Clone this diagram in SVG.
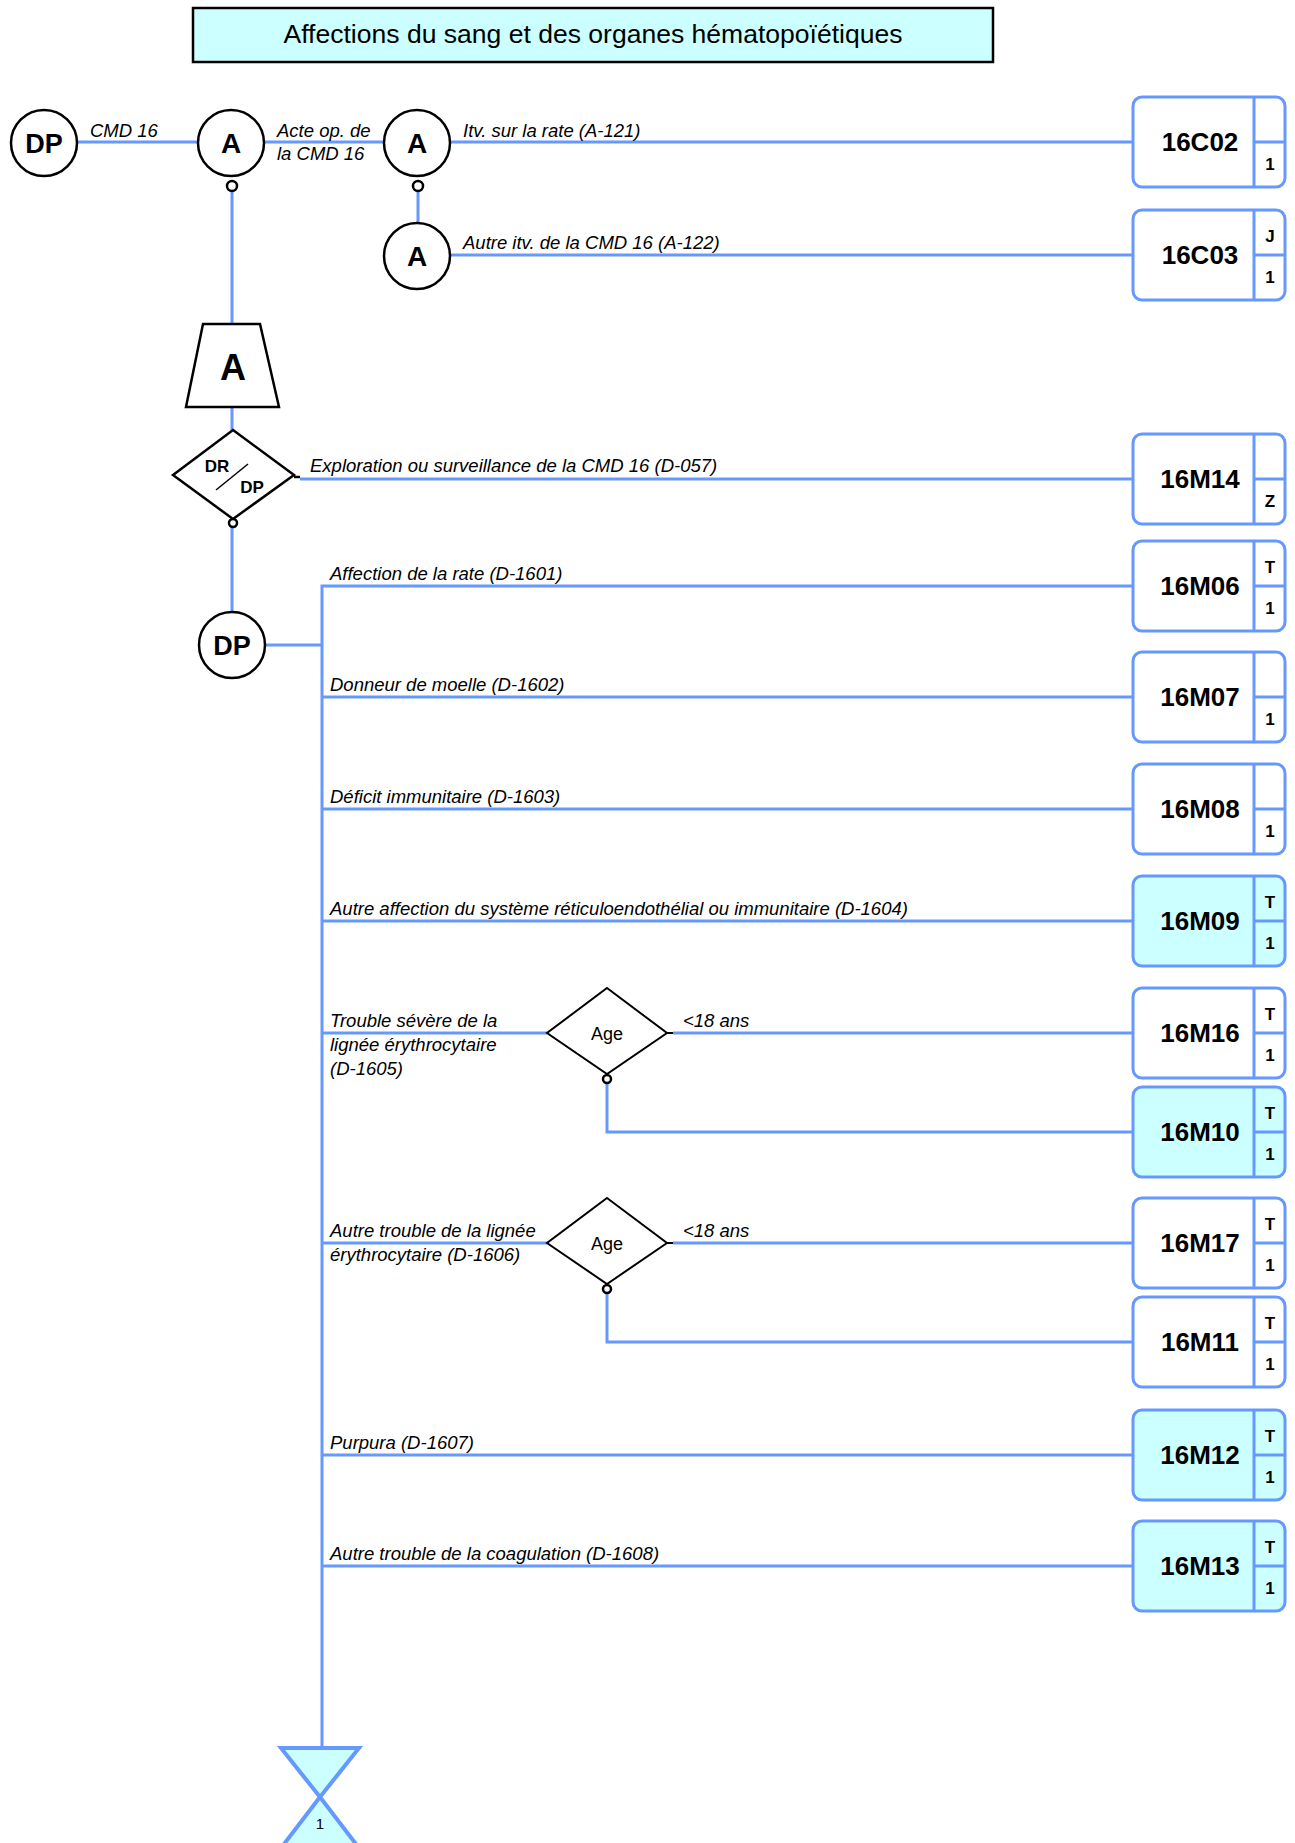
<svg xmlns="http://www.w3.org/2000/svg" width="1295" height="1843" viewBox="0 0 1295 1843">
<defs>
<style>
.bl{stroke:#6699FF;stroke-width:3;fill:none}
.nd{fill:#fff;stroke:#000;stroke-width:2.5}
.sm{fill:#fff;stroke:#000;stroke-width:2.5}
.lb{font-family:"Liberation Sans",Arial,sans-serif;font-size:18.5px;font-style:italic;fill:#000}
.ct{font-family:"Liberation Sans",Arial,sans-serif;font-weight:bold;fill:#000;text-anchor:middle}
.bx{stroke:#6699FF;stroke-width:3;fill:#fff}
.bxf{stroke:#6699FF;stroke-width:3;fill:#CCFFFF}
.code{font-family:"Liberation Sans",Arial,sans-serif;font-weight:bold;font-size:26px;fill:#000;text-anchor:middle}
.flag{font-family:"Liberation Sans",Arial,sans-serif;font-weight:bold;font-size:17px;fill:#000;text-anchor:middle}
.age{font-family:"Liberation Sans",Arial,sans-serif;font-size:18px;fill:#000;text-anchor:middle}
</style>
</defs>
<rect width="1295" height="1843" fill="#fff"/>

<g id="title">
<rect x="193" y="8" width="800" height="54" fill="#CCFFFF" stroke="#000" stroke-width="2.5"/>
<text x="593" y="43" font-family="'Liberation Sans',Arial,sans-serif" font-size="25" text-anchor="middle" textLength="619" lengthAdjust="spacingAndGlyphs">Affections du sang et des organes hématopoïétiques</text>
</g>

<g id="connectors">
<line class="bl" x1="77" y1="142" x2="198" y2="142"/>
<line class="bl" x1="264" y1="142" x2="385" y2="142"/>
<line class="bl" x1="450" y1="142" x2="1133" y2="142"/>
<line class="bl" x1="418" y1="192" x2="418" y2="223"/>
<line class="bl" x1="450" y1="255" x2="1133" y2="255"/>
<line class="bl" x1="232" y1="192" x2="232" y2="324"/>
<line class="bl" x1="232" y1="407" x2="232" y2="431"/>
<line x1="294" y1="477" x2="300" y2="477" stroke="#000" stroke-width="2.5"/>
<line class="bl" x1="300" y1="479" x2="1133" y2="479"/>
<line class="bl" x1="232" y1="528" x2="232" y2="612"/>
<line class="bl" x1="265" y1="645" x2="322" y2="645"/>
<polyline class="bl" points="1133,586 322,586 322,1748"/>
<line class="bl" x1="322" y1="697" x2="1133" y2="697"/>
<line class="bl" x1="322" y1="809" x2="1133" y2="809"/>
<line class="bl" x1="322" y1="921" x2="1133" y2="921"/>
<line class="bl" x1="322" y1="1033" x2="547" y2="1033"/>
<line x1="667" y1="1033" x2="673" y2="1033" stroke="#000" stroke-width="2"/>
<line class="bl" x1="673" y1="1033" x2="1133" y2="1033"/>
<polyline class="bl" points="607,1083 607,1132 1133,1132"/>
<line class="bl" x1="322" y1="1243" x2="547" y2="1243"/>
<line x1="667" y1="1243" x2="673" y2="1243" stroke="#000" stroke-width="2"/>
<line class="bl" x1="673" y1="1243" x2="1133" y2="1243"/>
<polyline class="bl" points="607,1293 607,1342 1133,1342"/>
<line class="bl" x1="322" y1="1455" x2="1133" y2="1455"/>
<line class="bl" x1="322" y1="1566" x2="1133" y2="1566"/>
</g>

<g id="labels">
<text class="lb" x="90" y="137">CMD 16</text>
<text class="lb" x="277" y="137">Acte op. de</text>
<text class="lb" x="277" y="160">la CMD 16</text>
<text class="lb" x="463" y="137">Itv. sur la rate (A-121)</text>
<text class="lb" x="463" y="249">Autre itv. de la CMD 16 (A-122)</text>
<text class="lb" x="310" y="472">Exploration ou surveillance de la CMD 16 (D-057)</text>
<text class="lb" x="330" y="580">Affection de la rate (D-1601)</text>
<text class="lb" x="330" y="691">Donneur de moelle (D-1602)</text>
<text class="lb" x="330" y="803">Déficit immunitaire (D-1603)</text>
<text class="lb" x="330" y="915">Autre affection du système réticuloendothélial ou immunitaire (D-1604)</text>
<text class="lb" x="330" y="1027">Trouble sévère de la</text>
<text class="lb" x="330" y="1051">lignée érythrocytaire</text>
<text class="lb" x="330" y="1075">(D-1605)</text>
<text class="lb" x="683" y="1027">&lt;18 ans</text>
<text class="lb" x="330" y="1237">Autre trouble de la lignée</text>
<text class="lb" x="330" y="1261">érythrocytaire (D-1606)</text>
<text class="lb" x="683" y="1237">&lt;18 ans</text>
<text class="lb" x="330" y="1449">Purpura (D-1607)</text>
<text class="lb" x="330" y="1560">Autre trouble de la coagulation (D-1608)</text>
</g>

<g id="dp1"><circle class="nd" cx="44" cy="143" r="33"/><text class="ct" x="44" y="153" font-size="27">DP</text></g>
<g id="a1"><circle class="nd" cx="231" cy="143" r="33"/><text class="ct" x="231" y="153" font-size="28">A</text><circle class="sm" cx="232" cy="186" r="5"/></g>
<g id="a2"><circle class="nd" cx="417" cy="143" r="33"/><text class="ct" x="417" y="153" font-size="28">A</text><circle class="sm" cx="418" cy="186" r="5"/></g>
<g id="a3"><circle class="nd" cx="417" cy="256" r="33"/><text class="ct" x="417" y="266" font-size="28">A</text></g>
<g id="trap"><polygon class="nd" points="203,324 260,324 279,407 186,407"/><text class="ct" x="233" y="380" font-size="36">A</text></g>
<g id="drdp">
<polygon class="nd" points="233,430 294,475 233,519 173,475"/>
<text class="ct" x="217" y="472" font-size="17">DR</text>
<text class="ct" x="252" y="493" font-size="17">DP</text>
<line x1="216" y1="490" x2="248" y2="464" stroke="#000" stroke-width="1.5"/>
<circle class="sm" cx="233" cy="523" r="4"/>
</g>
<g id="dp2"><circle class="nd" cx="232" cy="645" r="33"/><text class="ct" x="232" y="655" font-size="27">DP</text></g>
<g id="age1"><polygon points="607,988 667,1033 607,1074 547,1033" fill="#fff" stroke="#000" stroke-width="2"/><text class="age" x="607" y="1040">Age</text><circle class="sm" cx="607" cy="1079" r="4" stroke-width="2"/></g>
<g id="age2"><polygon points="607,1198 667,1243 607,1284 547,1243" fill="#fff" stroke="#000" stroke-width="2"/><text class="age" x="607" y="1250">Age</text><circle class="sm" cx="607" cy="1289" r="4" stroke-width="2"/></g>

<g id="b16C02"><rect class="bx" x="1133" y="97" width="152" height="90" rx="9"/><line class="bl" x1="1254" y1="97" x2="1254" y2="187"/><line class="bl" x1="1254" y1="142" x2="1285" y2="142"/><text class="code" x="1200" y="151">16C02</text><text class="flag" x="1270" y="170">1</text></g>
<g id="b16C03"><rect class="bx" x="1133" y="210" width="152" height="90" rx="9"/><line class="bl" x1="1254" y1="210" x2="1254" y2="300"/><line class="bl" x1="1254" y1="255" x2="1285" y2="255"/><text class="code" x="1200" y="264">16C03</text><text class="flag" x="1270" y="242">J</text><text class="flag" x="1270" y="283">1</text></g>
<g id="b16M14"><rect class="bx" x="1133" y="434" width="152" height="90" rx="9"/><line class="bl" x1="1254" y1="434" x2="1254" y2="524"/><line class="bl" x1="1254" y1="479" x2="1285" y2="479"/><text class="code" x="1200" y="488">16M14</text><text class="flag" x="1270" y="507">Z</text></g>
<g id="b16M06"><rect class="bx" x="1133" y="541" width="152" height="90" rx="9"/><line class="bl" x1="1254" y1="541" x2="1254" y2="631"/><line class="bl" x1="1254" y1="586" x2="1285" y2="586"/><text class="code" x="1200" y="595">16M06</text><text class="flag" x="1270" y="573">T</text><text class="flag" x="1270" y="614">1</text></g>
<g id="b16M07"><rect class="bx" x="1133" y="652" width="152" height="90" rx="9"/><line class="bl" x1="1254" y1="652" x2="1254" y2="742"/><line class="bl" x1="1254" y1="697" x2="1285" y2="697"/><text class="code" x="1200" y="706">16M07</text><text class="flag" x="1270" y="725">1</text></g>
<g id="b16M08"><rect class="bx" x="1133" y="764" width="152" height="90" rx="9"/><line class="bl" x1="1254" y1="764" x2="1254" y2="854"/><line class="bl" x1="1254" y1="809" x2="1285" y2="809"/><text class="code" x="1200" y="818">16M08</text><text class="flag" x="1270" y="837">1</text></g>
<g id="b16M09"><rect class="bxf" x="1133" y="876" width="152" height="90" rx="9"/><line class="bl" x1="1254" y1="876" x2="1254" y2="966"/><line class="bl" x1="1254" y1="921" x2="1285" y2="921"/><text class="code" x="1200" y="930">16M09</text><text class="flag" x="1270" y="908">T</text><text class="flag" x="1270" y="949">1</text></g>
<g id="b16M16"><rect class="bx" x="1133" y="988" width="152" height="90" rx="9"/><line class="bl" x1="1254" y1="988" x2="1254" y2="1078"/><line class="bl" x1="1254" y1="1033" x2="1285" y2="1033"/><text class="code" x="1200" y="1042">16M16</text><text class="flag" x="1270" y="1020">T</text><text class="flag" x="1270" y="1061">1</text></g>
<g id="b16M10"><rect class="bxf" x="1133" y="1087" width="152" height="90" rx="9"/><line class="bl" x1="1254" y1="1087" x2="1254" y2="1177"/><line class="bl" x1="1254" y1="1132" x2="1285" y2="1132"/><text class="code" x="1200" y="1141">16M10</text><text class="flag" x="1270" y="1119">T</text><text class="flag" x="1270" y="1160">1</text></g>
<g id="b16M17"><rect class="bx" x="1133" y="1198" width="152" height="90" rx="9"/><line class="bl" x1="1254" y1="1198" x2="1254" y2="1288"/><line class="bl" x1="1254" y1="1243" x2="1285" y2="1243"/><text class="code" x="1200" y="1252">16M17</text><text class="flag" x="1270" y="1230">T</text><text class="flag" x="1270" y="1271">1</text></g>
<g id="b16M11"><rect class="bx" x="1133" y="1297" width="152" height="90" rx="9"/><line class="bl" x1="1254" y1="1297" x2="1254" y2="1387"/><line class="bl" x1="1254" y1="1342" x2="1285" y2="1342"/><text class="code" x="1200" y="1351">16M11</text><text class="flag" x="1270" y="1329">T</text><text class="flag" x="1270" y="1370">1</text></g>
<g id="b16M12"><rect class="bxf" x="1133" y="1410" width="152" height="90" rx="9"/><line class="bl" x1="1254" y1="1410" x2="1254" y2="1500"/><line class="bl" x1="1254" y1="1455" x2="1285" y2="1455"/><text class="code" x="1200" y="1464">16M12</text><text class="flag" x="1270" y="1442">T</text><text class="flag" x="1270" y="1483">1</text></g>
<g id="b16M13"><rect class="bxf" x="1133" y="1521" width="152" height="90" rx="9"/><line class="bl" x1="1254" y1="1521" x2="1254" y2="1611"/><line class="bl" x1="1254" y1="1566" x2="1285" y2="1566"/><text class="code" x="1200" y="1575">16M13</text><text class="flag" x="1270" y="1553">T</text><text class="flag" x="1270" y="1594">1</text></g>

<g id="page1">
<polygon points="281,1748 359,1748 320,1797 359,1848 281,1848 320,1797" fill="#CCFFFF" stroke="#6699FF" stroke-width="4" stroke-linejoin="miter"/>
<text x="320" y="1829" font-family="'Liberation Sans',Arial,sans-serif" font-size="15" text-anchor="middle">1</text>
</g>
</svg>
